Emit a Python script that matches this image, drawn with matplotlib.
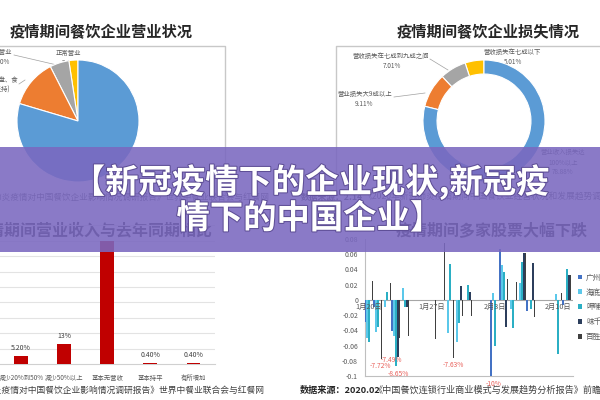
import matplotlib
matplotlib.use('Agg')
import matplotlib.pyplot as plt
import matplotlib.patheffects as pe
from matplotlib.patches import Rectangle
import numpy as np

plt.rcParams['font.family'] = ['Noto Sans CJK SC', 'DejaVu Sans']

# ---- data ----
# top left pie: 营业状况
status_names = ['正常营业', '部分营业', '外卖、外盘、食材(坚持)', '暂停营业']
status_vals = [2.40, 5.10, 12.90, 79.60]
status_colors = ['#FFC000', '#A5A5A5', '#ED7D31', '#5B9BD5']

# top right donut: 损失情况
loss_names = ['营收损失在七成以下', '营收损失在七成到九成之间', '营业损失大9成以上', '营业收入损失达100%以上']
loss_vals = [5.01, 7.01, 9.11, 78.88]
loss_colors = ['#FFC000', '#A5A5A5', '#ED7D31', '#5B9BD5']

# bottom left bars: 营业收入与去年同期相比
rev_cats = ['减少20%到50%', '减少50%以上', '基本无营收', '基本持平', '有所增加']
rev_vals = [5.2, 13, 80, 0.4, 0.4]
rev_labels = ['5.20%', '13%', '', '0.40%', '0.40%']

# bottom right: 股票涨跌幅 (day offset from 1月20日)
day_idx = [0, 1, 2, 3, 4, 7, 8, 9, 10, 11, 14, 15, 16, 17, 18, 21, 22]
gzjj = [-0.029, -0.009, 0, -0.041, 0, 0, 0, 0, 0, 0, -0.100, 0.067, 0, 0, -0.015, 0, -0.007]
hdl = [-0.050, -0.042, -0.009, -0.048, 0.016, 0, 0, -0.043, -0.055, 0, 0.009, 0.046, -0.012, 0.022, 0, 0.008, 0]
xbxb = [-0.055, -0.036, 0.011, -0.0865, -0.009, 0, 0, 0.047, -0.030, 0.020, -0.061, 0.037, -0.037, 0.050, -0.012, -0.071, 0.040]
wq = [0, 0, 0, -0.0749, -0.009, 0, 0, 0, 0.018, 0.011, 0, -0.036, 0, 0.061, 0.049, 0, 0.033]
bszg = [0.025, -0.0772, 0.022, -0.050, -0.048, -0.052, 0.075, -0.0763, -0.021, -0.021, 0, 0.028, 0.023, 0.061, -0.022, 0.009, 0.033]
stock_names = ['广州酒家', '海底捞', '呷哺呷哺', '味千(中国)', '百胜中国']
stock_colors = ['#4472C4', '#5BC8EA', '#2BAFC4', '#2C3E5C', '#404040']
date_pos = [0, 7, 14, 21]
date_labels = ['1月20日', '1月27日', '2月3日', '2月10日']
drop_day = [1, 3, 3, 9, 14]
drop_series = [4, 3, 2, 4, 0]
drop_text = ['-7.72%', '-7.49%', '-8.65%', '-7.63%', '-10%']
drop_off = [(-1, -7), (-6, -3), (2, -8), (0, -7), (2, -8)]
yticks = [-0.1, -0.08, -0.06, -0.04, -0.02, 0, 0.02, 0.04, 0.06, 0.08]
ytick_labels = ['-0.1', '-0.08', '-0.06', '-0.04', '-0.02', '0', '0.02', '0.04', '0.06', '0.08']

src_a = '数据来源：《新冠肺炎疫情对中国餐饮企业影响情况调研报告》世界中餐业联合会与红餐网'

fig = plt.figure(figsize=(6, 4), dpi=100)


def px_axes(x0, y0, x1, y1, **kw):
    return fig.add_axes([x0 / 600, 1 - y1 / 400, (x1 - x0) / 600, (y1 - y0) / 400], **kw)


base = fig.add_axes([0, 0, 1, 1])
base.set_xlim(0, 600)
base.set_ylim(400, 0)
base.axis('off')

# titles / boxes / sources
base.text(10, 32, '疫情期间餐饮企业营业状况', fontsize=11, fontweight='bold', color='#262626', va='center')
base.text(397, 32, '疫情期间餐饮企业损失情况', fontsize=11, fontweight='bold', color='#262626', va='center')
base.plot([-2, 225, 225], [46, 46, 195], color='#C8C8C8', lw=1)
base.plot([610, 336, 336], [46, 46, 195], color='#C8C8C8', lw=1)
base.text(-27, 230, '疫情期间营业收入与去年同期相比', fontsize=11.5, fontweight='bold', color='#262626', va='center')
base.text(396, 230, '疫情期间多家股票大幅下跌', fontsize=11.5, fontweight='bold', color='#262626', va='center')
base.text(270, 197, src_a, fontsize=6.2, color='#595959', ha='right', va='center')
base.text(265, 390, src_a, fontsize=6.3, color='#404040', ha='right', va='center')
base.text(301, 197, '数据来源：2.14', fontsize=6.3, fontweight='bold', color='#404040', va='center')
base.text(363, 197, '《2020年新冠肺炎疫情期间中国餐饮业经营状况和发展趋势调查报告》', fontsize=6.3, color='#595959', va='center')
base.text(300, 390, '数据来源：2020.02', fontsize=6.6, fontweight='bold', color='#262626', va='center')
base.text(373, 390, '《中国餐饮连锁行业商业模式与发展趋势分析报告》前瞻产业研究院', fontsize=6.6, color='#404040', va='center')

# pie labels
lab = dict(fontsize=4.6, color='#595959', ha='center', va='center')
base.text(68, 53, status_names[0], **lab)
base.text(71, 63, f'{status_vals[0]:.2f}%', **lab)
base.text(12, 52, status_names[1], fontsize=4.6, color='#595959', ha='right', va='center')
base.text(10, 62, f'{status_vals[1]:.2f}%', fontsize=4.6, color='#595959', ha='right', va='center')
base.plot([14, 57], [55, 65], color='#A0A0A0', lw=0.5)
base.text(18, 80, '外卖、外盘、食', fontsize=4.6, color='#595959', ha='right', va='center')
base.text(10, 90, '材(坚持)', fontsize=4.6, color='#595959', ha='right', va='center')
base.plot([19, 25], [84, 80], color='#A0A0A0', lw=0.5)

base.text(512, 52, loss_names[0], **lab)
base.text(513, 62, f'{loss_vals[0]:.2f}%', **lab)
base.text(391, 56, loss_names[1], **lab)
base.text(392, 66, f'{loss_vals[1]:.2f}%', **lab)
base.plot([430, 448], [59, 70], color='#A0A0A0', lw=0.5)
base.text(365, 94, loss_names[2], **lab)
base.text(364, 104, f'{loss_vals[2]:.2f}%', **lab)
base.plot([394, 425], [97, 93], color='#A0A0A0', lw=0.5)
base.text(563, 152, '营业收入损失达', **lab)
base.text(563, 162, '100%以上', **lab)
base.text(563, 172, f'{loss_vals[3]:.2f}%', **lab)

# ---- top left pie ----
ax1 = px_axes(17, 60, 139, 182)
ax1.pie(status_vals, colors=status_colors, startangle=90, counterclock=True,
        wedgeprops=dict(edgecolor='white', linewidth=0.8))
ax1.set_xlim(-1, 1)
ax1.set_ylim(-1, 1)

# ---- top right donut ----
ax2 = px_axes(423, 60, 545, 182)
ax2.pie(loss_vals, colors=loss_colors, startangle=90, counterclock=True,
        wedgeprops=dict(width=0.23, edgecolor='white', linewidth=0.8))
ax2.set_xlim(-1, 1)
ax2.set_ylim(-1, 1)

# ---- bottom left bars ----
ax3 = px_axes(-43.5, 225.4, 215, 364)
ax3.set_facecolor('none')
x = np.arange(len(rev_cats))
ax3.bar(x, rev_vals, 0.32, color='#C00000', zorder=3)
for xi, v, t in zip(x, rev_vals, rev_labels):
    if t:
        ax3.annotate(t, (xi, v), xytext=(0, 3), textcoords='offset points',
                     ha='center', va='bottom', fontsize=5, color='#404040')
ax3.set_xlim(-1.5, 4.5)
ax3.set_ylim(0, 90)
ax3.set_yticks(np.arange(10, 91, 10))
ax3.yaxis.grid(True, color='#E3E3E3', lw=0.8)
ax3.set_axisbelow(True)
ax3.tick_params(left=False, labelleft=False, bottom=False, labelsize=4.6, colors='#595959', pad=4)
ax3.set_xticks(x)
ax3.set_xticklabels(rev_cats)
for s in ['left', 'right', 'top']:
    ax3.spines[s].set_visible(False)
ax3.spines['bottom'].set_color('#D0D0D0')

# ---- bottom right stocks ----
ax4 = px_axes(365, 239, 573, 376)
ax4.set_facecolor('none')
w = 0.2
series = [gzjj, hdl, xbxb, wq, bszg]
days = np.array(day_idx, dtype=float)
for i, (vals, name, c) in enumerate(zip(series, stock_names, stock_colors)):
    ax4.bar(days + (i - 2) * w, vals, w, color=c, label=name, zorder=3)
ax4.axhline(0, color='#A6A6A6', lw=0.8, zorder=2)
for d, s, t, (dx, dy) in zip(drop_day, drop_series, drop_text, drop_off):
    v = series[s][day_idx.index(d)]
    ax4.annotate(t, (d + (s - 2) * w, v), xytext=(dx, dy), textcoords='offset pixels',
                 ha='center', va='center', fontsize=4.8, color='#E8605A')
for p, t in zip(date_pos, date_labels):
    ax4.annotate(t, (p, 0), xytext=(0, -2), textcoords='offset points',
                 ha='center', va='top', fontsize=5.2, color='#595959')
ax4.set_xlim(-0.44, 22.67)
ax4.set_ylim(-0.1, 0.08)
ax4.set_yticks(yticks)
ax4.set_yticklabels(ytick_labels)
ax4.set_xticks([])
ax4.tick_params(axis='y', length=0, labelsize=5, colors='#595959', pad=5)
ax4.spines['top'].set_visible(False)
ax4.spines['right'].set_visible(False)
ax4.spines['left'].set_color('#BFBFBF')
ax4.spines['bottom'].set_color('#BFBFBF')
ax4.legend(loc='center left', bbox_to_anchor=(1.0, 0.5), frameon=False, fontsize=5.5,
           handlelength=0.6, handleheight=0.6, handletextpad=0.5, labelspacing=0.9,
           borderaxespad=0.2, labelcolor='#595959')

# ---- purple banner ----
top = fig.add_axes([0, 0, 1, 1], zorder=10)
top.set_xlim(0, 600)
top.set_ylim(400, 0)
top.axis('off')
top.add_patch(Rectangle((0, 147), 600, 105, color='#7A68C0', alpha=0.88, lw=0))
fx = [pe.withStroke(linewidth=1.5, foreground='#5E4E96')]
top.text(311, 182, '【新冠疫情下的企业现状,新冠疫', fontsize=24, fontweight='bold', color='white',
         ha='center', va='center', path_effects=fx)
top.text(310, 219, '情下的中国企业】', fontsize=24, fontweight='bold', color='white',
         ha='center', va='center', path_effects=fx)

fig.savefig('out.png', dpi=100)
